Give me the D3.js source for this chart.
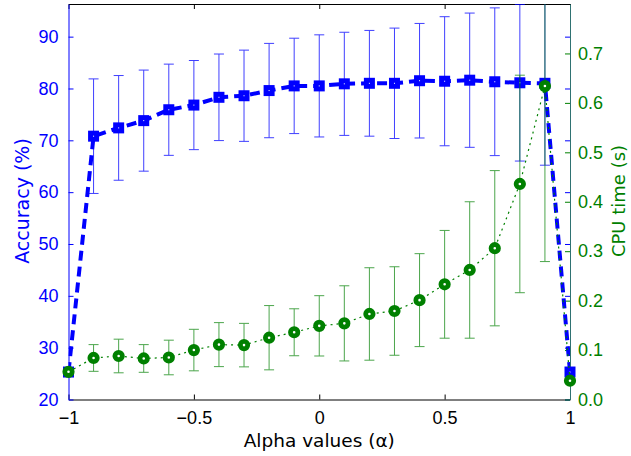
<!DOCTYPE html>
<html>
<head>
<meta charset="utf-8">
<script src="https://cdn.jsdelivr.net/npm/d3@7"></script>
<style>
  body { margin: 0; background: #fff; }
  svg { font-family: "DejaVu Sans", sans-serif; }
</style>
</head>
<body>
<svg width="631" height="456"></svg>
<script>
// alpha values on the x axis
var alphaVals = [-1, -0.9, -0.8, -0.7, -0.6, -0.5, -0.4, -0.3, -0.2, -0.1, 0,
                 0.1, 0.2, 0.3, 0.4, 0.5, 0.6, 0.7, 0.8, 0.9, 1];

// accuracy (%) mean and error
var accMean = [25.3, 70.8, 72.4, 73.8, 75.9, 76.8, 78.3, 78.6, 79.6, 80.5, 80.5,
               80.9, 81.0, 81.0, 81.5, 81.4, 81.6, 81.3, 81.1, 81.0, 25.3];
var accErr  = [0, 11.05, 10.1, 9.75, 8.8, 8.6, 8.35, 8.8, 9.1, 9.2, 9.85,
               9.95, 10.2, 10.65, 11.05, 12.45, 12.95, 14.25, 15.1, 15.8, 0];

// cpu time (s) mean and error
var cpuMean = [0.056, 0.084, 0.088, 0.083, 0.085, 0.100, 0.111, 0.110, 0.125, 0.136, 0.149,
               0.154, 0.173, 0.179, 0.201, 0.233, 0.262, 0.306, 0.436, 0.634, 0.038];
var cpuErr  = [0.004, 0.027, 0.034, 0.028, 0.035, 0.042, 0.0445, 0.044, 0.065, 0.0475, 0.061,
               0.076, 0.0935, 0.0895, 0.094, 0.109, 0.138, 0.157, 0.22, 0.355, 0.004];

var xTicks = [-1, -0.5, 0, 0.5, 1];
var accTicks = [20, 30, 40, 50, 60, 70, 80, 90];
var cpuTicks = [0, 0.1, 0.2, 0.3, 0.4, 0.5, 0.6, 0.7];

var blue = "#0000ff", green = "#008000";

var svg = d3.select("svg"),
    box = {left: 68.5, right: 570, top: 4, bottom: 399.5};

var x = d3.scaleLinear().domain([-1, 1]).range([box.left, box.right]);
var yA = d3.scaleLinear().domain([20, 96.3]).range([box.bottom, box.top]);
var yC = d3.scaleLinear().domain([0, 0.8]).range([box.bottom, box.top]);

svg.append("clipPath").attr("id", "plotclip")
  .append("rect")
    .attr("x", box.left).attr("y", box.top)
    .attr("width", box.right - box.left).attr("height", box.bottom - box.top);

var fmt = function(d) { return d < 0 ? "\u2212" + Math.abs(d) : "" + d; };

// x axis bottom and top
svg.append("g")
    .attr("transform", "translate(0," + box.bottom + ")")
    .call(d3.axisBottom(x).tickValues(xTicks).tickSizeInner(-5).tickSizeOuter(0).tickPadding(12).tickFormat(fmt))
    .call(function(g) {
      g.select(".domain").attr("stroke", "#000");
      g.selectAll("text").attr("font-size", 18).attr("fill", "#000");
    });
svg.append("g")
    .attr("transform", "translate(0," + box.top + ")")
    .call(d3.axisTop(x).tickValues(xTicks).tickSizeInner(-5).tickSizeOuter(0).tickFormat(""))
    .call(function(g) { g.select(".domain").attr("stroke", "#000"); });

// left (accuracy) axis
svg.append("g")
    .attr("transform", "translate(" + box.left + ",0)")
    .call(d3.axisLeft(yA).tickValues(accTicks).tickSizeInner(-5).tickSizeOuter(0).tickPadding(10))
    .call(function(g) {
      g.select(".domain").attr("stroke", blue);
      g.selectAll("line").attr("stroke", blue);
      g.selectAll("text").attr("font-size", 18).attr("fill", blue);
    });
// mirrored accuracy ticks on the right side
svg.append("g")
    .attr("transform", "translate(" + box.right + ",0)")
    .call(d3.axisRight(yA).tickValues(accTicks).tickSizeInner(-5).tickSizeOuter(0).tickFormat(""))
    .call(function(g) {
      g.select(".domain").remove();
      g.selectAll("line").attr("stroke", blue);
    });

// right (cpu) axis
svg.append("g")
    .attr("transform", "translate(" + box.right + ",0)")
    .call(d3.axisRight(yC).tickValues(cpuTicks).tickSizeInner(-5).tickSizeOuter(0).tickPadding(8))
    .call(function(g) {
      g.select(".domain").attr("stroke", "#2f7272");
      g.selectAll("line").attr("stroke", green);
      g.selectAll("text").attr("font-size", 18).attr("fill", green);
    });

// axis titles
svg.append("text")
    .attr("transform", "translate(29,201) rotate(-90)")
    .attr("text-anchor", "middle")
    .attr("font-size", 19).attr("fill", blue)
    .text("Accuracy (%)");
svg.append("text")
    .attr("transform", "translate(625,201) rotate(-90)")
    .attr("text-anchor", "middle")
    .attr("font-size", 18).attr("fill", green)
    .text("CPU time (s)");
svg.append("text")
    .attr("x", (box.left + box.right) / 2).attr("y", 447)
    .attr("text-anchor", "middle")
    .attr("font-size", 18.5).attr("fill", "#000")
    .text("Alpha values (\u03b1)");

function drawSeries(means, errs, yScale, color, opts) {
  var clipped = svg.append("g").attr("clip-path", "url(#plotclip)");
  var capW = 5;

  var bars = clipped.selectAll(".eb-" + opts.name)
    .data(alphaVals)
    .enter().append("g")
      .attr("class", "eb-" + opts.name)
      .attr("stroke", color).attr("stroke-width", 1).attr("opacity", opts.barOpacity);

  bars.append("line")
      .attr("x1", function(d) { return x(d); })
      .attr("x2", function(d) { return x(d); })
      .attr("y1", function(d, i) { return yScale(means[i] - errs[i]); })
      .attr("y2", function(d, i) { return yScale(means[i] + errs[i]); });
  bars.append("line")
      .attr("x1", function(d) { return x(d) - capW; })
      .attr("x2", function(d) { return x(d) + capW; })
      .attr("y1", function(d, i) { return yScale(means[i] - errs[i]); })
      .attr("y2", function(d, i) { return yScale(means[i] - errs[i]); });
  bars.append("line")
      .attr("x1", function(d) { return x(d) - capW; })
      .attr("x2", function(d) { return x(d) + capW; })
      .attr("y1", function(d, i) { return yScale(means[i] + errs[i]); })
      .attr("y2", function(d, i) { return yScale(means[i] + errs[i]); });

  var line = d3.line()
      .x(function(d) { return x(d); })
      .y(function(d, i) { return yScale(means[i]); });

  clipped.append("path")
      .datum(alphaVals)
      .attr("fill", "none")
      .attr("stroke", color)
      .attr("stroke-width", opts.lineWidth)
      .attr("stroke-dasharray", opts.dash)
      .attr("d", line);

  var marks = svg.append("g");
  if (opts.marker == "square") {
    marks.selectAll("rect")
      .data(alphaVals)
      .enter().append("rect")
        .attr("x", function(d) { return x(d) - 3; })
        .attr("y", function(d, i) { return yScale(means[i]) - 3; })
        .attr("width", 6).attr("height", 6)
        .attr("fill", "#fff").attr("stroke", color).attr("stroke-width", 5);
  } else {
    marks.selectAll("circle")
      .data(alphaVals)
      .enter().append("circle")
        .attr("cx", function(d) { return x(d); })
        .attr("cy", function(d, i) { return yScale(means[i]); })
        .attr("r", 3.7)
        .attr("fill", "#fff").attr("stroke", color).attr("stroke-width", 4.8);
  }
}

drawSeries(accMean, accErr, yA, blue, {name: "acc", barOpacity: 0.75, lineWidth: 4, dash: "10,6", marker: "square"});
drawSeries(cpuMean, cpuErr, yC, green, {name: "cpu", barOpacity: 0.7, lineWidth: 1.2, dash: "2,4", marker: "circle"});
</script>
</body>
</html>
